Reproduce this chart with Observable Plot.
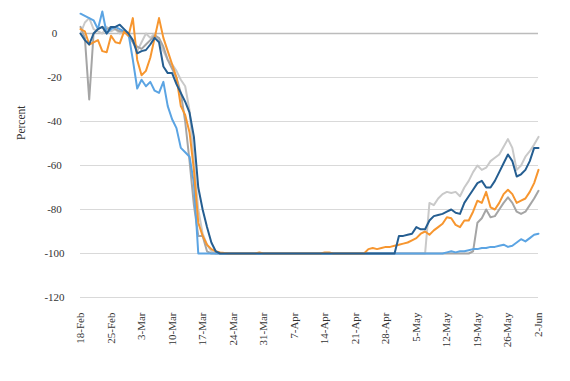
<!DOCTYPE html>
<html>
<head>
<meta charset="utf-8">
<script src="https://cdn.jsdelivr.net/npm/d3@7"></script>
<script src="https://cdn.jsdelivr.net/npm/@observablehq/plot@0.6"></script>
<style>
  html, body { margin: 0; padding: 0; background: #fff; }
  #chart svg { display: block; }
</style>
</head>
<body>
<div id="chart"></div>
<script>
// ---- categories (daily, 18-Feb to 2-Jun 2020) ----
const startDate = new Date(Date.UTC(2020, 1, 18));
const endDate = new Date(Date.UTC(2020, 5, 2));
const dates = d3.utcDay.range(startDate, d3.utcDay.offset(endDate, 1));

// ---- tick labels ----
const tickDates = ["2020-02-18","2020-02-25","2020-03-03","2020-03-10","2020-03-17","2020-03-24","2020-03-31","2020-04-07",
                   "2020-04-14","2020-04-21","2020-04-28","2020-05-05","2020-05-12","2020-05-19","2020-05-26","2020-06-02"];
const tickLabels = ["18-Feb","25-Feb","3-Mar","10-Mar","17-Mar","24-Mar","31-Mar","7-Apr",
                    "14-Apr","21-Apr","28-Apr","5-May","12-May","19-May","26-May","2-Jun"];
const yTicks = [-120, -100, -80, -60, -40, -20, 0];

// ---- series (percent) ----
const lightGray = [
  0, 5, 7, 2, 1, 0, 3, 1, 2, 0,
  1, -1, -4, -8, -4, 0, -2, 0, -3, -8,
  -12, -14, -17, -21, -24, -35, -58, -80, -91, -96,
  -99, -100, -100, -100, -100, -100, -100, -100, -100, -100,
  -100, -100, -100, -100, -100, -100, -100, -100, -100, -100,
  -100, -100, -100, -100, -100, -100, -100, -100, -100, -100,
  -100, -100, -100, -100, -100, -100, -100, -100, -100, -100,
  -100, -100, -100, -100, -100, -100, -100, -100, -100, -100,
  -77, -78, -75, -73, -72, -72.5, -72, -74, -70, -67,
  -63, -60, -62, -61, -58, -56.5, -55, -51.5, -48, -52,
  -62, -60, -56, -53.5, -50.5, -47
];
const gray = [
  3, -2, -30, 0, 2, 3, 2, 3, 2, 1,
  1, -1, -4, -6, -7, -5, -3, -1, -2, -6,
  -12, -16, -20, -27, -40, -58, -78, -92, -92, -99,
  -100, -100, -100, -100, -100, -100, -100, -100, -100, -100,
  -100, -100, -100, -100, -100, -100, -100, -100, -100, -100,
  -100, -100, -100, -100, -100, -100, -100, -100, -100, -100,
  -100, -100, -100, -100, -100, -100, -100, -100, -100, -100,
  -100, -100, -100, -100, -100, -100, -100, -100, -100, -100,
  -100, -100, -100, -100, -100, -100, -100, -100, -100, -100,
  -99, -86, -84, -80, -83.5, -83, -80, -77, -74.5, -77,
  -81, -82, -81, -78, -75, -71.5
];
const lightBlue = [
  9, 8, 7, 6, 2, 10, 0, 2, 3, 2,
  1, 0, -12, -25, -21, -24, -22, -26, -27, -22,
  -33, -39, -43, -52, -54, -56, -68, -100, -100, -100,
  -100, -100, -100, -100, -100, -100, -100, -100, -100, -100,
  -100, -100, -100, -100, -100, -100, -100, -100, -100, -100,
  -100, -100, -100, -100, -100, -100, -100, -100, -100, -100,
  -100, -100, -100, -100, -100, -100, -100, -100, -100, -100,
  -100, -100, -100, -100, -100, -100, -100, -100, -100, -100,
  -100, -100, -100, -100, -99.5, -99, -99.5, -99, -99, -98.5,
  -98, -98, -97.5, -97.5, -97, -97, -96.5, -96, -97, -96.5,
  -95, -93.5, -94.5, -93, -91.5, -91
];
const orange = [
  2, 1, -5, -4, -3, -8, -8.5, -1, -4, -4.5,
  1, -1, 7, -12, -19, -17, -11, -2, 7, -2,
  -8, -14, -20, -33, -37, -45, -62, -86, -92, -96,
  -98, -99, -99.5, -99.8, -100, -100, -100, -100, -100, -100,
  -100, -99.5, -100, -100, -100, -100, -100, -100, -100, -100,
  -100, -100, -100, -100, -100, -100, -99.5, -99.5, -100, -100,
  -100, -100, -100, -100, -100, -100, -98, -97.5, -98, -97.5,
  -97, -97, -96.5, -96, -95.5, -95, -94, -93, -91, -90,
  -91.5, -89.5, -88, -86.5, -83.5, -84, -87, -88, -85, -85,
  -81, -76, -77, -72, -79, -80, -77, -73, -71, -73,
  -77, -76, -75, -72, -68, -62
];
const darkBlue = [
  0, -3, -5, 0, 2, 3, 0, 3, 3, 4,
  2, 0, -3, -9, -8, -7.5, -5, -2, -4, -15,
  -18, -18, -23, -27, -31, -36, -47, -70, -80, -88,
  -95, -99, -100, -100, -100, -100, -100, -100, -100, -100,
  -100, -100, -100, -100, -100, -100, -100, -100, -100, -100,
  -100, -100, -100, -100, -100, -100, -100, -100, -100, -100,
  -100, -100, -100, -100, -100, -100, -100, -100, -100, -100,
  -100, -100, -100, -92, -92, -91.5, -91, -88, -89, -89,
  -85, -83, -82.5, -82, -81, -80, -81.5, -82, -77, -74,
  -71, -68, -67, -70, -70, -67, -63, -59, -55, -58,
  -65, -64, -62, -58, -52, -52
];

const seriesNames = ["Series 5", "Series 4", "Series 3", "Series 2", "Series 1"];
const seriesValues = [lightGray, gray, lightBlue, orange, darkBlue];
const seriesColors = ["#c9c9c9", "#a5a5a5", "#5ba4e3", "#f7962f", "#255e91"];

const rows = [];
seriesNames.forEach((name, s) => {
  dates.forEach((d, i) => rows.push({ date: d, value: seriesValues[s][i], series: name }));
});
const tickDateObjs = tickDates.map(s => new Date(s + "T00:00:00Z"));
const fmtX = d => tickLabels[tickDateObjs.findIndex(t => +t === +d)];

const chart = Plot.plot({
  width: 570,
  height: 381,
  marginLeft: 80,
  marginRight: 32,
  marginTop: 0,
  marginBottom: 84,
  style: { fontFamily: "'Liberation Serif', 'Times New Roman', serif", fontSize: "11px", color: "#333", background: "#fff" },
  x: { type: "utc", domain: [startDate, endDate], label: null },
  y: { domain: [-120, 15], label: null },
  color: { domain: seriesNames, range: seriesColors },
  marks: [
    Plot.ruleY(yTicks.filter(v => v !== 0), { stroke: "#d9d9d9", strokeWidth: 1 }),
    Plot.ruleY([0], { stroke: "#bcbcbc", strokeWidth: 1.3 }),
    Plot.axisY(yTicks, { tickSize: 0, tickPadding: 26, textAnchor: "middle", tickFormat: d => String(d), label: null }),
    Plot.axisX(tickDateObjs, { tickSize: 0, tickPadding: 15, tickRotate: -90, tickFormat: fmtX, label: null }),
    Plot.line(rows, { x: "date", y: "value", z: "series", stroke: "series", strokeWidth: 2 }),
    Plot.text(["Percent"], { frameAnchor: "left", rotate: -90, dx: -59, dy: -9, fontSize: 11.5, fill: "#333" })
  ]
});
document.getElementById("chart").appendChild(chart);
</script>
</body>
</html>
